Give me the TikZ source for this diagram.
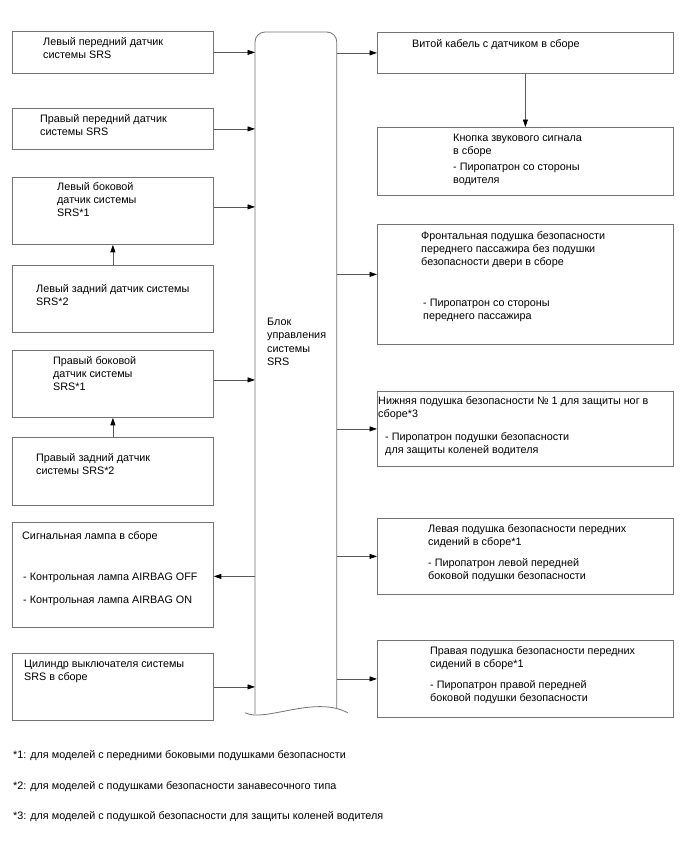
\documentclass[tikz,border=0pt]{standalone}
\usepackage{fontspec}
\setmainfont{Liberation Sans}
\usetikzlibrary{calc, arrows.meta}

\begin{document}
\begin{tikzpicture}[x=1pt, y=-1pt, font=\fontsize{10.8}{13.3}\selectfont,
		blk/.style={draw=black!55, line width=0.8pt, rectangle, inner sep=0pt, anchor=north west},
		lblk/.style={blk, minimum width=201pt},
		rblk/.style={blk, minimum width=296pt},
		txt/.style={anchor=north west, inner sep=0pt, align=left, yshift=-2.5pt, execute at begin node=\strut},
		arr/.style={draw=black!65, line width=0.8pt, -{Triangle[length=7.5pt, width=5pt, color=black]}}]
	
	\fill[white] (0,0) rectangle (688,852);
	\useasboundingbox (0,0) rectangle (688,852);
	
	% --- LEFT COLUMN: SENSORS AND LAMPS ---
	\node[lblk, minimum height=42pt] (l1) at (12,31) {};
	\node[lblk, minimum height=41pt] (l2) at (12,108) {};
	\node[lblk, minimum height=67pt] (l3) at (12,177) {};
	\node[lblk, minimum height=67pt] (l4) at (12,265) {};
	\node[lblk, minimum height=67pt] (l5) at (12,350) {};
	\node[lblk, minimum height=68pt] (l6) at (12,437) {};
	\node[lblk, minimum height=105pt] (l7) at (12,522) {};
	\node[lblk, minimum height=67pt] (l8) at (12,653) {};
	
	\node[txt] (l1txt) at (43,34.5) {Левый передний датчик\\системы SRS};
	\node[txt] (l2txt) at (40,111.5) {Правый передний датчик\\системы SRS};
	\node[txt] (l3txt) at (57,179.5) {Левый боковой\\датчик системы\\SRS*1};
	\node[txt] (l4txt) at (36,281.5) {Левый задний датчик системы\\SRS*2};
	\node[txt] (l5txt) at (53,353.5) {Правый боковой\\датчик системы\\SRS*1};
	\node[txt] (l6txt) at (36,450.5) {Правый задний датчик\\системы SRS*2};
	\node[txt] (l7txt) at (22,527.5) {Сигнальная лампа в сборе};
	\node[txt] (l7off) at (23,568.5) {- Контрольная лампа AIRBAG OFF};
	\node[txt] (l7on) at (23,591.5) {- Контрольная лампа AIRBAG ON};
	\node[txt] (l8txt) at (24,657.5) {Цилиндр выключателя системы\\SRS в сборе};
	
	% --- CENTRE: CONTROL UNIT ---
	\node[blk, draw=none, minimum width=81pt, minimum height=675pt] (ecu) at (255,32) {};
	\draw[draw=black!55, line width=0.8pt, rounded corners=10pt] ([yshift=-6pt]ecu.south west) -- (ecu.north west) -- (ecu.north east) -- (ecu.south east);
	\draw[draw=black!55, line width=0.8pt] ($(ecu.south west)+(-10,5)$) .. controls ($(ecu.south west)+(10,15)$) and ($(ecu.south east)+(-22,-13)$) .. ($(ecu.south east)+(11,5)$);
	\node[txt] (ecutxt) at (267,315.5) {Блок\\управления\\системы\\SRS};
	
	% --- RIGHT COLUMN: AIRBAGS ---
	\node[rblk, minimum height=41pt] (r1) at (377,32) {};
	\node[rblk, minimum height=68pt] (r2) at (377,127) {};
	\node[rblk, minimum height=120pt] (r3) at (377,224) {};
	\node[rblk, minimum height=75pt] (r4) at (377,391) {};
	\node[rblk, minimum height=76pt] (r5) at (377,518) {};
	\node[rblk, minimum height=77pt] (r6) at (377,640) {};
	
	\node[txt] (r1txt) at (412,35.5) {Витой кабель с датчиком в сборе};
	\node[txt] (r2txt) at (453,131.5) {Кнопка звукового сигнала\\в сборе};
	\node[txt] (r2sub) at (453,160.5) {- Пиропатрон со стороны\\водителя};
	\node[txt] (r3txt) at (421,228.5) {Фронтальная подушка безопасности\\переднего пассажира без подушки\\безопасности двери в сборе};
	\node[txt] (r3sub) at (423,296.5) {- Пиропатрон со стороны\\переднего пассажира};
	\node[txt] (r4txt) at (378,393.5) {Нижняя подушка безопасности № 1 для защиты ног в\\сборе*3};
	\node[txt] (r4sub) at (385,429.5) {- Пиропатрон подушки безопасности\\для защиты коленей водителя};
	\node[txt] (r5txt) at (428,521.5) {Левая подушка безопасности передних\\сидений в сборе*1};
	\node[txt] (r5sub) at (428,555.5) {- Пиропатрон левой передней\\боковой подушки безопасности};
	\node[txt] (r6txt) at (430,643.5) {Правая подушка безопасности передних\\сидений в сборе*1};
	\node[txt] (r6sub) at (430,677.5) {- Пиропатрон правой передней\\боковой подушки безопасности};
	
	% --- CONNECTORS ---
	\draw[arr] (l1.east) -- (l1.east -| ecu.west);
	\draw[arr] (l2.east) -- (l2.east -| ecu.west);
	\draw[arr] ($(l3.east)+(0,-4)$) -- ($(l3.east -| ecu.west)+(0,-4)$);
	\draw[arr] (l4.north) -- (l3.south);
	\draw[arr] ($(l5.east)+(0,-4)$) -- ($(l5.east -| ecu.west)+(0,-4)$);
	\draw[arr] (l6.north) -- (l5.south);
	\draw[arr] ($(l7.east -| ecu.west)+(0,1.5)$) -- ($(l7.east)+(0,1.5)$);
	\draw[arr] (l8.east) -- (l8.east -| ecu.west);
	
	\draw[arr] (r1.west -| ecu.east) -- (r1.west);
	\draw[arr] (r1.south) -- (r2.north);
	\draw[arr] ($(r3.west -| ecu.east)+(0,-10)$) -- ($(r3.west)+(0,-10)$);
	\draw[arr] (r4.west -| ecu.east) -- (r4.west);
	\draw[arr] (r5.west -| ecu.east) -- (r5.west);
	\draw[arr] (r6.west -| ecu.east) -- (r6.west);
	
	% --- FOOTNOTES ---
	\node[txt] (fn1) at (13,746.5) {*1: для моделей с передними боковыми подушками безопасности};
	\node[txt] (fn2) at (13,777.5) {*2: для моделей с подушками безопасности занавесочного типа};
	\node[txt] (fn3) at (13,807.5) {*3: для моделей с подушкой безопасности для защиты коленей водителя};
	
\end{tikzpicture}
\end{document}
